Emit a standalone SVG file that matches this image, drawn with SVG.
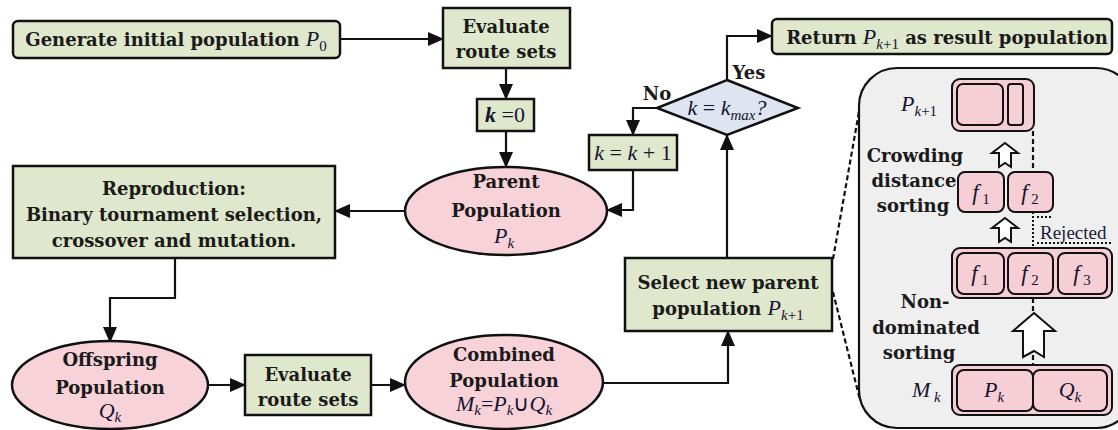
<svg xmlns="http://www.w3.org/2000/svg" width="1118" height="430" viewBox="0 0 1118 430">
<style>
.g{fill:#dfe8cc;stroke:#111;stroke-width:2.5}
.p{fill:#f8d2d9;stroke:#111;stroke-width:2.5}
.d{fill:#dfe5f0;stroke:#111;stroke-width:2.5}
.pi{fill:#f6cfd6;stroke:#111;stroke-width:2}
.t{font-family:"DejaVu Serif","Liberation Serif",serif;font-weight:bold;font-size:18px;fill:#1a1a1a;text-anchor:middle}
.m{font-family:"Liberation Serif","DejaVu Serif",serif;font-style:italic;font-weight:normal;fill:#151530}
.r{font-family:"Liberation Serif",serif;font-style:normal;font-weight:normal}
.s{font-size:15px}
.c{fill:none;stroke:#111;stroke-width:2.2}
.dash{fill:none;stroke:#111;stroke-width:2.2;stroke-dasharray:5,3}
.dot{fill:none;stroke:#111;stroke-width:2;stroke-dasharray:2,2}
.ha{fill:#fff;stroke:#111;stroke-width:2}
</style>
<defs>
<marker id="ah" markerUnits="userSpaceOnUse" markerWidth="16" markerHeight="14" refX="15" refY="7" orient="auto">
<path d="M0,0 L16,7 L0,14 z" fill="#111"/>
</marker>
</defs>

<g id="connectors">
<path class="c" d="M340,39 H443" marker-end="url(#ah)"/>
<path class="c" d="M506,68 V99" marker-end="url(#ah)"/>
<path class="c" d="M506,131 V167" marker-end="url(#ah)"/>
<path class="c" d="M657,108 H633 V135" marker-end="url(#ah)"/>
<path class="c" d="M633,170 V210 H607" marker-end="url(#ah)"/>
<path class="c" d="M727,80 V36 H772" marker-end="url(#ah)"/>
<path class="c" d="M727,258 V135" marker-end="url(#ah)"/>
<path class="c" d="M405,211 H335" marker-end="url(#ah)"/>
<path class="c" d="M175,258 V298 H110 V342" marker-end="url(#ah)"/>
<path class="c" d="M208,385 H245" marker-end="url(#ah)"/>
<path class="c" d="M371,385 H405" marker-end="url(#ah)"/>
<path class="c" d="M602,383 H728 V331" marker-end="url(#ah)"/>
<path class="dash" d="M833,259 L860,106"/>
<path class="dash" d="M833,292 L860,400"/>
</g>

<g id="n-generate">
<rect class="g" x="13" y="21" width="327" height="37" rx="5"/>
<text class="t" x="176" y="46">Generate initial population <tspan class="m" font-size="22">P</tspan><tspan class="m r s" dy="5">0</tspan></text>
</g>

<g id="n-evaluate1">
<rect class="g" x="443" y="8" width="127" height="60"/>
<text class="t" x="506" y="33">Evaluate</text>
<text class="t" x="506" y="58">route sets</text>
</g>

<g id="n-k0">
<rect class="g" x="477" y="99" width="57" height="32"/>
<text class="m" x="505" y="122" font-size="22" text-anchor="middle"><tspan font-weight="bold">k</tspan><tspan class="r"> =0</tspan></text>
</g>

<g id="n-parent">
<ellipse class="p" cx="506" cy="211" rx="101" ry="44"/>
<text class="t" x="506" y="188">Parent</text>
<text class="t" x="506" y="217">Population</text>
<text class="m" x="504" y="243" font-size="22" text-anchor="middle">P<tspan class="s" dy="5">k</tspan></text>
</g>

<g id="n-decision">
<polygon class="d" points="727,80 798,108 727,135 657,108"/>
<text class="m" x="727" y="115" font-size="22" text-anchor="middle">k<tspan class="r"> = </tspan>k<tspan class="s" dy="5">max</tspan><tspan dy="-5">?</tspan></text>
<text class="t" x="749" y="79">Yes</text>
<text class="t" x="657" y="100">No</text>
</g>

<g id="n-kinc">
<rect class="g" x="589" y="135" width="88" height="35"/>
<text class="m" x="633" y="160" font-size="22" text-anchor="middle">k<tspan class="r"> = </tspan>k<tspan class="r"> + 1</tspan></text>
</g>

<g id="n-return">
<rect class="g" x="772" y="19" width="340" height="35" rx="5"/>
<text class="t" x="947" y="44">Return <tspan class="m" font-size="22">P</tspan><tspan class="m s" dy="5">k</tspan><tspan class="m r s">+1</tspan><tspan dy="-5"> as result population</tspan></text>
</g>

<g id="n-reproduction">
<rect class="g" x="13" y="166" width="322" height="92"/>
<text class="t" x="174" y="195">Reproduction:</text>
<text class="t" x="174" y="221">Binary tournament selection,</text>
<text class="t" x="174" y="247">crossover and mutation.</text>
</g>

<g id="n-offspring">
<ellipse class="p" cx="110" cy="385" rx="98" ry="44"/>
<text class="t" x="110" y="366">Offspring</text>
<text class="t" x="110" y="394">Population</text>
<text class="m" x="110" y="418" font-size="22" text-anchor="middle">Q<tspan class="s" dy="4">k</tspan></text>
</g>

<g id="n-evaluate2">
<rect class="g" x="245" y="355" width="126" height="60"/>
<text class="t" x="308" y="381">Evaluate</text>
<text class="t" x="308" y="406">route sets</text>
</g>

<g id="n-combined">
<ellipse class="p" cx="504" cy="382" rx="99" ry="47"/>
<text class="t" x="504" y="361">Combined</text>
<text class="t" x="504" y="387">Population</text>
<text class="m" x="504" y="411" font-size="22" text-anchor="middle">M<tspan class="s" dy="4">k</tspan><tspan class="r" dy="-4">=</tspan>P<tspan class="s" dy="4">k</tspan><tspan class="r" dy="-4">∪</tspan>Q<tspan class="s" dy="4">k</tspan></text>
</g>

<g id="n-select">
<rect class="g" x="625" y="258" width="207" height="73"/>
<text class="t" x="728" y="289">Select new parent</text>
<text class="t" x="728" y="315">population <tspan class="m" font-size="22">P</tspan><tspan class="m s" dy="5">k</tspan><tspan class="m r s">+1</tspan></text>
</g>

<g id="n-panel">
<rect x="859" y="68" width="275" height="360" rx="38" fill="#efefef" stroke="#111" stroke-width="2.2"/>
<text class="m" x="901" y="111" font-size="22">P<tspan class="s" dy="5">k</tspan><tspan class="r s">+1</tspan></text>
<rect class="pi" x="952" y="79" width="82" height="52" rx="8"/>
<rect class="pi" x="957" y="84" width="46" height="41" rx="6"/>
<rect class="pi" x="1008" y="84" width="15" height="41" rx="3"/>
<path class="dash" d="M1033,131 V172"/>
<path class="ha" d="M1005,143 L1018,153 L1011,153 L1011,167 L1005,163 L999,167 L999,153 L992,153 z"/>
<text class="t" x="915" y="162">Crowding</text>
<text class="t" x="914" y="187">distance</text>
<text class="t" x="913" y="212">sorting</text>
<rect class="pi" x="958" y="172" width="46" height="40" rx="7"/>
<rect class="pi" x="1008" y="172" width="45" height="40" rx="7"/>
<text class="m" x="981" y="200" font-size="23" text-anchor="middle">f<tspan class="r s" dy="4"> 1</tspan></text>
<text class="m" x="1030" y="200" font-size="23" text-anchor="middle">f<tspan class="r s" dy="4"> 2</tspan></text>
<path class="ha" d="M1005,218 L1018,228 L1011,228 L1011,242 L1005,238 L999,242 L999,228 L992,228 z"/>
<path class="dot" d="M1033,212 V248 M1037,217 H1053 M1037,243 H1112"/>
<text x="1040" y="239" font-family="Liberation Serif,serif" font-size="19" fill="#1a1a3a">Rejected</text>
<rect class="pi" x="952" y="248" width="160" height="50" rx="8"/>
<rect class="pi" x="957" y="253" width="47" height="41" rx="7"/>
<rect class="pi" x="1008" y="253" width="45" height="41" rx="7"/>
<rect class="pi" x="1058" y="253" width="49" height="41" rx="7"/>
<text class="m" x="980" y="281" font-size="23" text-anchor="middle">f<tspan class="r s" dy="4"> 1</tspan></text>
<text class="m" x="1030" y="281" font-size="23" text-anchor="middle">f<tspan class="r s" dy="4"> 2</tspan></text>
<text class="m" x="1082" y="281" font-size="23" text-anchor="middle">f<tspan class="r s" dy="4"> 3</tspan></text>
<path class="dash" d="M1033,298 V313 M1033,355 V365"/>
<path class="ha" d="M1034,313 L1055,331 L1044,331 L1044,357 L1034,351 L1023,357 L1023,331 L1013,331 z"/>
<text class="t" x="925" y="308">Non-</text>
<text class="t" x="926" y="334">dominated</text>
<text class="t" x="919" y="359">sorting</text>
<text class="m" x="912" y="397" font-size="22">M<tspan class="s" dy="5"> k</tspan></text>
<rect class="pi" x="952" y="365" width="160" height="50" rx="8"/>
<rect class="pi" x="957" y="370" width="76" height="41" rx="7"/>
<rect class="pi" x="1033" y="370" width="74" height="41" rx="7"/>
<text class="m" x="994" y="397" font-size="22" text-anchor="middle">P<tspan class="s" dy="5">k</tspan></text>
<text class="m" x="1070" y="397" font-size="22" text-anchor="middle">Q<tspan class="s" dy="5">k</tspan></text>
</g>
</svg>
